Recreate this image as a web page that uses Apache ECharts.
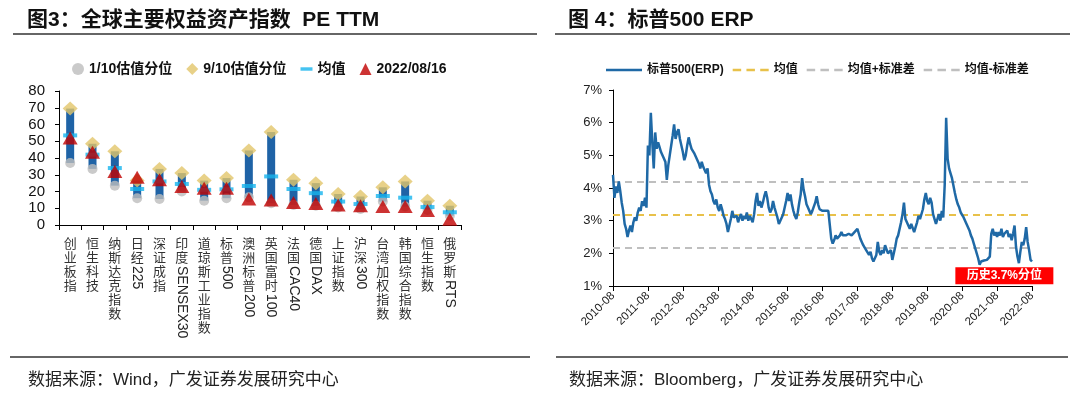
<!DOCTYPE html>
<html><head><meta charset="utf-8">
<script src="https://cdn.jsdelivr.net/npm/echarts@6/dist/echarts.min.js"></script>
<style>html,body{margin:0;padding:0;background:#fff}#c{width:1080px;height:393px}</style>
</head><body><div id="c"></div>
<script>
// ---------- Figure 3 data: PE TTM ----------
const peCategories = ['创业板指','恒生科技','纳斯达克指数','日经225','深证成指','印度SENSEX30','道琼斯工业指数','标普500','澳洲标普200','英国富时100','法国CAC40','德国DAX','上证指数','沪深300','台湾加权指数','韩国综合指数','恒生指数','俄罗斯RTS'];
const peP10  = [37, 33.5, 23.5, 16, 15.5, 20, 14.5, 16, 16.5, 13, 12, 11.5, 10.5, 9.5, 14, 11, 9, 5.5];
const peP90  = [69.5, 48.5, 44, 26.5, 33.5, 31, 26.5, 28, 44.5, 55.5, 27, 25, 18.5, 17, 22.5, 26, 14.5, 11.5];
const peMean = [53.5, 42, 34, 21.5, 26, 24.5, 21, 21.3, 23.3, 29, 21.5, 19, 14, 12.5, 17.3, 16.3, 10.7, 7.6];
const peNow  = [52, 43.5, 32, 28.5, 27, 23, 22, 22, 15.5, 15, 13.5, 12.8, 12, 11.5, 11, 11, 8.7, 3.5];
const peYTicks = [0, 10, 20, 30, 40, 50, 60, 70, 80];

// ---------- Figure 4 data: S&P 500 ERP (semi-monthly, 2010-08 .. 2022-08) ----------
const erpValues = [
 4.40,3.70,4.05,3.85,4.20,3.90,3.55,3.30,2.90,2.75,2.50,2.70,2.85,2.65,2.95,3.10,3.00,3.25,3.40,3.30,3.60,3.45,3.70,3.40,
 5.30,5.00,6.30,5.40,4.60,5.70,5.20,5.40,5.25,5.10,5.00,4.90,4.80,4.25,4.70,5.00,5.30,5.60,5.95,5.50,5.70,5.80,5.50,5.30,
 5.10,4.85,5.00,5.30,5.55,5.35,5.20,5.25,5.05,4.95,4.85,4.75,4.60,4.80,4.65,4.55,4.45,4.60,4.10,3.90,3.80,3.60,3.50,3.65,
 3.40,3.30,3.50,3.35,3.15,3.05,2.90,2.65,2.85,3.05,3.30,3.10,3.05,3.15,2.95,3.10,3.20,3.00,3.15,3.05,3.25,3.00,3.15,3.05,
 2.95,3.20,3.60,3.85,3.45,3.60,3.40,3.55,3.75,3.90,3.70,3.40,3.25,3.35,3.60,3.40,3.25,3.10,2.90,3.00,3.10,3.20,3.40,3.60,
 3.85,3.60,3.80,3.50,3.30,3.15,3.05,3.25,3.55,3.80,4.30,3.95,3.75,3.50,3.40,3.30,3.20,3.30,3.35,3.55,3.75,3.50,3.35,3.30,
 3.30,3.25,3.30,3.25,3.30,3.25,2.45,2.30,2.40,2.55,2.45,2.40,2.55,2.65,2.55,2.60,2.55,2.50,2.60,2.65,2.55,2.60,2.65,2.70,
 2.75,2.60,2.45,2.35,2.25,2.20,2.10,2.05,1.95,2.05,1.85,1.75,1.70,1.95,2.35,2.05,1.95,2.10,2.00,2.25,2.20,2.00,1.95,2.10,
 1.80,1.75,2.20,2.45,2.55,2.60,2.95,3.20,3.55,3.05,2.95,2.85,2.75,2.90,2.85,2.65,2.80,2.95,3.15,3.05,3.00,3.35,3.65,3.85,
 3.60,3.50,3.70,3.55,3.20,3.05,2.90,2.85,3.20,3.00,3.30,3.10,4.10,6.15,4.90,4.60,4.45,4.30,4.25,3.85,3.65,3.50,3.40,3.25,
 3.20,3.10,3.05,2.90,2.85,2.70,2.55,2.45,2.30,2.15,2.00,1.85,1.65,1.75,1.80,1.78,1.82,1.80,1.85,1.90,2.60,2.75,2.55,2.65,
 2.50,2.65,2.55,2.75,2.50,2.60,2.55,2.70,2.50,2.60,2.40,2.60,2.85,2.20,1.90,1.70,2.05,2.35,2.25,2.45,2.80,2.35,2.10,1.80,1.75
];
const erpMean = 3.17, erpUpper = 4.19, erpLower = 2.16;
const erpYTicks = [1, 2, 3, 4, 5, 6, 7];
const erpLabelText = '历史3.7%分位';
const erpLabelDate = '2021-10-16', erpLabelValue = 1.31;

// category dates (01 and 16 of each month)
const erpDates = [];
for (let i = 0; i < erpValues.length; i++) {
  const m = Math.floor(i / 2);
  const y = 2010 + Math.floor((7 + m) / 12);
  const mo = (7 + m) % 12 + 1;
  erpDates.push(y + '-' + String(mo).padStart(2, '0') + '-' + (i % 2 ? '16' : '01'));
}

const FONT = "'Liberation Sans', 'Noto Sans CJK SC', sans-serif";
const CJK = "'Noto Sans CJK SC', 'Liberation Sans', sans-serif";
const isCjk = ch => /[\u3400-\u9fff]/.test(ch);
const cjkPart = s => { let i = 0; while (i < s.length && isCjk(s[i])) i++; return s.slice(0, i); };
const latPart = s => s.slice(cjkPart(s).length);

const SOLID_ICON = 'path://M0,0H34V2.4H0Z';
const DASH_ICON = 'path://M0,0H8V2.4H0Z M13,0H21V2.4H13Z M26,0H34V2.4H26Z';

const chart = echarts.init(document.getElementById('c'), null, {renderer: 'canvas'});
const isAug = (idx, val) => val.slice(5) === '08-01';

chart.setOption({
  animation: false,
  textStyle: {fontFamily: FONT},
  title: [
    {text: '图3：全球主要权益资产指数  PE TTM', left: 22, top: 5, textStyle: {fontSize: 21, fontWeight: 'bold', color: '#111', fontFamily: FONT}},
    {text: '图 4：标普500 ERP', left: 563, top: 5, textStyle: {fontSize: 21, fontWeight: 'bold', color: '#111', fontFamily: FONT}},
    {text: '数据来源：Wind，广发证券发展研究中心', left: 23, top: 367, textStyle: {fontSize: 17, fontWeight: 'normal', color: '#222', fontFamily: FONT}},
    {text: '数据来源：Bloomberg，广发证券发展研究中心', left: 564, top: 367, textStyle: {fontSize: 17, fontWeight: 'normal', color: '#222', fontFamily: FONT}}
  ],
  graphic: [
    {type: 'line', shape: {x1: 13, y1: 34, x2: 537, y2: 34}, style: {stroke: '#333', lineWidth: 1.5}},
    {type: 'line', shape: {x1: 555, y1: 34, x2: 1070, y2: 34}, style: {stroke: '#333', lineWidth: 1.5}},
    {type: 'line', shape: {x1: 10, y1: 357, x2: 530, y2: 357}, style: {stroke: '#333', lineWidth: 1.5}},
    {type: 'line', shape: {x1: 556, y1: 357, x2: 1068, y2: 357}, style: {stroke: '#333', lineWidth: 1.5}}
  ],
  legend: [
    {
      left: 67, top: 57, itemWidth: 12, itemHeight: 12, itemGap: 14,
      textStyle: {fontSize: 14, fontWeight: 'bold', color: '#111', fontFamily: FONT},
      data: [
        {name: '1/10估值分位', icon: 'circle'},
        {name: '9/10估值分位', icon: 'diamond'},
        {name: '均值', icon: 'path://M0,0H14V4H0Z'},
        {name: '2022/08/16', icon: 'triangle'}
      ]
    },
    {
      left: 601, top: 59, itemWidth: 36, itemHeight: 10, itemGap: 9,
      textStyle: {fontSize: 12, fontWeight: 'bold', color: '#111', fontFamily: FONT},
      formatter: n => n.replace('(ERP线)', ''),
      data: [
        {name: '标普500(ERP)', icon: SOLID_ICON},
        {name: '均值(ERP线)', icon: DASH_ICON},
        {name: '均值+标准差', icon: DASH_ICON},
        {name: '均值-标准差', icon: DASH_ICON}
      ]
    }
  ],
  grid: [
    {left: 59, right: 619, top: 91, bottom: 168},
    {left: 613, right: 48, top: 90, bottom: 107}
  ],
  xAxis: [
    {
      gridIndex: 0, type: 'category', data: peCategories, boundaryGap: true,
      axisLine: {lineStyle: {color: '#000', width: 1}},
      axisTick: {show: true, length: 5, lineStyle: {color: '#000'}},
      axisLabel: {
        interval: 0, margin: 11, color: '#333', fontSize: 13, lineHeight: 14, fontFamily: CJK,
        formatter: v => cjkPart(v).split('').join('\n')
      }
    },
    {
      gridIndex: 0, type: 'category', data: peCategories, position: 'bottom',
      axisLine: {show: false}, axisTick: {show: false},
      axisLabel: {
        interval: 0, rotate: -90, margin: 11,
        formatter: v => { const l = latPart(v); if (!l) return ''; return '{s' + cjkPart(v).length + '| }{e|' + l + '}'; },
        rich: {
          s2: {width: 30}, s3: {width: 44}, s4: {width: 58},
          e: {fontSize: 14, color: '#222', fontFamily: FONT}
        }
      }
    },
    {
      gridIndex: 1, type: 'category', data: erpDates, boundaryGap: false,
      axisLine: {lineStyle: {color: '#000', width: 1}},
      axisTick: {show: true, interval: isAug, length: 5, lineStyle: {color: '#000'}},
      axisLabel: {interval: isAug, rotate: 45, fontSize: 11.5, color: '#222', margin: 8, formatter: v => v.slice(0, 7)}
    }
  ],
  yAxis: [
    {
      gridIndex: 0, type: 'value', min: peYTicks[0], max: peYTicks[peYTicks.length - 1], interval: 10,
      splitLine: {show: false},
      axisLine: {show: true, lineStyle: {color: '#000'}},
      axisTick: {show: true, length: 4, lineStyle: {color: '#000'}},
      axisLabel: {fontSize: 15, color: '#111', margin: 14}
    },
    {
      gridIndex: 1, type: 'value', min: erpYTicks[0], max: erpYTicks[erpYTicks.length - 1], interval: 1,
      splitLine: {show: false},
      axisLine: {show: true, lineStyle: {color: '#000'}},
      axisTick: {show: true, length: 4, lineStyle: {color: '#000'}},
      axisLabel: {fontSize: 13, color: '#222', margin: 11, formatter: '{value}%'}
    }
  ],
  series: [
    {name: 'base', type: 'bar', stack: 'r', xAxisIndex: 0, yAxisIndex: 0, data: peP10, barWidth: 8,
     itemStyle: {color: 'rgba(0,0,0,0)'}, silent: true, emphasis: {disabled: true}},
    {name: 'range', type: 'bar', stack: 'r', xAxisIndex: 0, yAxisIndex: 0, barWidth: 8,
     data: peP90.map((v, i) => +(v - peP10[i]).toFixed(2)),
     itemStyle: {color: '#1f63a6'}, silent: true, emphasis: {disabled: true}},
    {name: '1/10估值分位', type: 'scatter', xAxisIndex: 0, yAxisIndex: 0, data: peP10, symbol: 'circle', symbolSize: 10,
     itemStyle: {color: '#bdbdbd'}, z: 3},
    {name: '9/10估值分位', type: 'scatter', xAxisIndex: 0, yAxisIndex: 0, data: peP90, symbol: 'diamond', symbolSize: [15, 14],
     itemStyle: {color: '#e2c56a'}, z: 4},
    {name: '均值', type: 'scatter', xAxisIndex: 0, yAxisIndex: 0, data: peMean, symbol: 'rect', symbolSize: [14, 4],
     itemStyle: {color: '#16b4ee'}, z: 5},
    {name: '2022/08/16', type: 'scatter', xAxisIndex: 0, yAxisIndex: 0, data: peNow, symbol: 'triangle', symbolSize: [15, 13],
     itemStyle: {color: '#c00000'}, z: 6},

    {name: '标普500(ERP)', type: 'line', xAxisIndex: 2, yAxisIndex: 1, data: erpValues, symbol: 'none',
     lineStyle: {color: '#1f69a6', width: 2.5}, itemStyle: {color: '#1f69a6'}, z: 5,
     markPoint: {
       symbol: 'rect', symbolSize: [98, 17], silent: true,
       itemStyle: {color: '#ff0000'},
       label: {show: true, position: 'inside', color: '#fff', fontWeight: 'bold', fontSize: 12, formatter: erpLabelText},
       data: [{coord: [erpLabelDate, erpLabelValue]}]
     }},
    {name: '均值(ERP线)', type: 'line', xAxisIndex: 2, yAxisIndex: 1, data: [], symbol: 'none',
     lineStyle: {color: '#e8c14a', width: 2, type: [7, 5]}, itemStyle: {color: '#e8c14a'},
     markLine: {silent: true, symbol: ['none', 'none'], label: {show: false},
       lineStyle: {color: '#e8c14a', width: 2, type: [7, 5]}, data: [{yAxis: erpMean}]}},
    {name: '均值+标准差', type: 'line', xAxisIndex: 2, yAxisIndex: 1, data: [], symbol: 'none',
     lineStyle: {color: '#bfbfbf', width: 2, type: [7, 5]}, itemStyle: {color: '#bfbfbf'},
     markLine: {silent: true, symbol: ['none', 'none'], label: {show: false},
       lineStyle: {color: '#bfbfbf', width: 2, type: [7, 5]}, data: [{yAxis: erpUpper}]}},
    {name: '均值-标准差', type: 'line', xAxisIndex: 2, yAxisIndex: 1, data: [], symbol: 'none',
     lineStyle: {color: '#bfbfbf', width: 2, type: [7, 5]}, itemStyle: {color: '#bfbfbf'},
     markLine: {silent: true, symbol: ['none', 'none'], label: {show: false},
       lineStyle: {color: '#bfbfbf', width: 2, type: [7, 5]}, data: [{yAxis: erpLower}]}}
  ]
});
</script>
</body></html>
